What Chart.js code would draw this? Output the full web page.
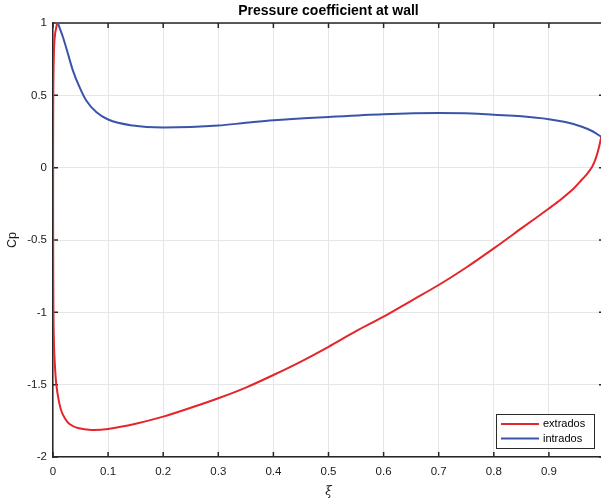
<!DOCTYPE html>
<html>

<head>
    <title>Pressure coefficient at wall</title>
    <script src="https://cdn.jsdelivr.net/npm/chart.js@4.4.0/dist/chart.umd.min.js"></script>

    <style type="text/css">
        html,
        body {
            margin: 0;
            padding: 0;
            overflow: hidden;
            background-color: #ffffff;
        }

        /* the right edge of the axes box sits just past the visible window */
        #plotFrame {
            width: 601px;
            height: 500px;
            overflow: hidden;
        }

        canvas {
            display: block;
        }
    </style>
</head>

<body>
    <div id="plotFrame">
        <canvas id="chartCp" width="607" height="500"></canvas>
    </div>

    <script>
        // extrados: from the stagnation point round the leading edge, then back to the trailing edge
        const xiExtrados = [0.0075, 0.004, 0.0022, 0.0012, 0.0006, 0.0003, 0.0002, 0.0003, 0.0008, 0.002,
            0.004, 0.006, 0.010, 0.015, 0.022, 0.030, 0.045, 0.070, 0.100, 0.150,
            0.200, 0.250, 0.300, 0.350, 0.400, 0.450, 0.500, 0.550, 0.600, 0.650,
            0.700, 0.750, 0.800, 0.850, 0.900, 0.920, 0.945, 0.960, 0.969, 0.979,
            0.986, 0.991, 0.995];
        const cpExtrados = [1.0, 0.93, 0.85, 0.72, 0.55, 0.3, 0.0, -0.5, -1.0, -1.25,
            -1.4, -1.5, -1.6, -1.68, -1.735, -1.772, -1.8, -1.813, -1.806, -1.77,
            -1.721, -1.66, -1.594, -1.52, -1.433, -1.34, -1.238, -1.13, -1.03, -0.92,
            -0.811, -0.69, -0.558, -0.42, -0.282, -0.225, -0.144, -0.082, -0.045, 0.01,
            0.075, 0.143, 0.213];

        // intrados: from the stagnation point to the trailing edge
        const xiIntrados = [0.0088, 0.018, 0.027, 0.036, 0.048, 0.060, 0.0785, 0.100, 0.145, 0.200,
            0.250, 0.300, 0.350, 0.400, 0.500, 0.600, 0.700, 0.760, 0.800, 0.850,
            0.900, 0.930, 0.960, 0.980, 0.995];
        const cpIntrados = [1.0, 0.903, 0.789, 0.673, 0.558, 0.466, 0.385, 0.333, 0.291, 0.278,
            0.281, 0.291, 0.31, 0.328, 0.351, 0.37, 0.378, 0.375, 0.366, 0.355,
            0.335, 0.315, 0.283, 0.25, 0.213];

        const xTicks = [0, 0.1, 0.2, 0.3, 0.4, 0.5, 0.6, 0.7, 0.8, 0.9, 1];
        const xTickLabels = ['0', '0.1', '0.2', '0.3', '0.4', '0.5', '0.6', '0.7', '0.8', '0.9', '1'];
        const yTicks = [-2, -1.5, -1, -0.5, 0, 0.5, 1];
        const yTickLabels = ['-2', '-1.5', '-1', '-0.5', '0', '0.5', '1'];

        const seriesNames = ['extrados', 'intrados'];
        const seriesColors = ['#e3262b', '#3b54ab'];

        const axisColor = '#262626';
        const gridColor = '#e6e6e6';
        const fontFamily = '"Liberation Sans", Arial, sans-serif';
        const tickLen = 5;

        function toPoints(xs, ys) {
            return xs.map((x, i) => ({ x: x, y: ys[i] }));
        }

        // box round the axes, inward ticks, title and legend
        const framePlugin = {
            id: 'frame',
            beforeDatasetsDraw(chart) {
                const ctx = chart.ctx;
                const a = chart.chartArea;
                const sx = chart.scales.x;
                const sy = chart.scales.y;

                ctx.save();
                ctx.strokeStyle = axisColor;
                ctx.lineWidth = 1.5;
                ctx.beginPath();
                ctx.moveTo(a.left, a.top);
                ctx.lineTo(a.right, a.top);
                ctx.lineTo(a.right, a.bottom);
                for (const v of xTicks) {
                    let px = sx.getPixelForValue(v);
                    ctx.moveTo(px, a.bottom);
                    ctx.lineTo(px, a.bottom - tickLen);
                    ctx.moveTo(px, a.top);
                    ctx.lineTo(px, a.top + tickLen);
                }
                for (const v of yTicks) {
                    let py = sy.getPixelForValue(v);
                    ctx.moveTo(a.left, py);
                    ctx.lineTo(a.left + tickLen, py);
                    ctx.moveTo(a.right, py);
                    ctx.lineTo(a.right - tickLen, py);
                }
                ctx.stroke();
                ctx.restore();
            },
            afterDraw(chart) {
                const ctx = chart.ctx;
                const a = chart.chartArea;

                ctx.save();
                ctx.fillStyle = '#000000';
                ctx.font = 'bold 14px ' + fontFamily;
                ctx.textAlign = 'center';
                ctx.textBaseline = 'middle';
                ctx.fillText('Pressure coefficient at wall', (a.left + a.right) / 2, 11);

                // legend, bottom right inside the axes
                const boxW = 98;
                const boxH = 34;
                const boxX = a.right - 10 - boxW;
                const boxY = a.bottom - 9 - boxH;
                ctx.fillStyle = '#ffffff';
                ctx.fillRect(boxX, boxY, boxW, boxH);
                ctx.strokeStyle = '#2b2b2b';
                ctx.lineWidth = 1;
                ctx.strokeRect(boxX + 0.5, boxY + 0.5, boxW, boxH);

                ctx.font = '11px ' + fontFamily;
                ctx.textAlign = 'left';
                for (let i = 0; i < seriesNames.length; i++) {
                    let rowY = boxY + 10 + i * 14.5;
                    ctx.strokeStyle = seriesColors[i];
                    ctx.lineWidth = 2;
                    ctx.beginPath();
                    ctx.moveTo(boxX + 5, rowY);
                    ctx.lineTo(boxX + 43, rowY);
                    ctx.stroke();
                    ctx.fillStyle = '#000000';
                    ctx.fillText(seriesNames[i], boxX + 47, rowY);
                }
                ctx.restore();
            }
        };

        window.onload = function() {
            let ctx = document.getElementById('chartCp').getContext('2d');

            new Chart(ctx, {
                type: 'scatter',
                data: {
                    datasets: [{
                        label: seriesNames[0],
                        data: toPoints(xiExtrados, cpExtrados),
                        borderColor: seriesColors[0],
                        backgroundColor: seriesColors[0],
                    }, {
                        label: seriesNames[1],
                        data: toPoints(xiIntrados, cpIntrados),
                        borderColor: seriesColors[1],
                        backgroundColor: seriesColors[1],
                        cubicInterpolationMode: 'monotone'
                    }]
                },
                options: {
                    responsive: false,
                    animation: false,
                    devicePixelRatio: 1,
                    layout: {
                        padding: { top: 23, right: 3, bottom: 0, left: 0 }
                    },
                    elements: {
                        point: { radius: 0, hoverRadius: 0 },
                        line: { borderWidth: 2, tension: 0.3, fill: false }
                    },
                    datasets: {
                        scatter: { showLine: true }
                    },
                    plugins: {
                        legend: { display: false },
                        title: { display: false },
                        tooltip: { enabled: false }
                    },
                    scales: {
                        x: {
                            type: 'linear',
                            min: 0,
                            max: 1,
                            afterFit: function(scale) {
                                scale.height = 43;
                                scale.paddingLeft = 0;
                                scale.paddingRight = 0;
                            },
                            afterBuildTicks: function(scale) {
                                scale.ticks = xTicks.map(v => ({ value: v }));
                            },
                            grid: { color: gridColor, lineWidth: 1, drawTicks: false },
                            border: { color: axisColor, width: 1.5 },
                            ticks: {
                                color: '#1a1a1a',
                                padding: 8,
                                maxRotation: 0,
                                autoSkip: false,
                                font: { family: fontFamily, size: 11.5 },
                                callback: (value, index) => xTickLabels[index]
                            },
                            title: {
                                display: true,
                                text: 'ξ',
                                color: '#1a1a1a',
                                padding: { top: 0, bottom: 1 },
                                font: { family: '"DejaVu Serif", serif', size: 12, style: 'italic' }
                            }
                        },
                        y: {
                            type: 'linear',
                            min: -2,
                            max: 1,
                            afterFit: function(scale) {
                                scale.width = 53;
                                scale.paddingTop = 0;
                                scale.paddingBottom = 0;
                            },
                            afterBuildTicks: function(scale) {
                                scale.ticks = yTicks.map(v => ({ value: v }));
                            },
                            grid: { color: gridColor, lineWidth: 1, drawTicks: false },
                            border: { color: axisColor, width: 1.5 },
                            ticks: {
                                color: '#1a1a1a',
                                padding: 6,
                                autoSkip: false,
                                font: { family: fontFamily, size: 11.5 },
                                callback: (value, index) => yTickLabels[index]
                            },
                            title: {
                                display: true,
                                text: 'Cp',
                                color: '#1a1a1a',
                                padding: { top: 5, bottom: 0 },
                                font: { family: fontFamily, size: 12.5 }
                            }
                        }
                    }
                },
                plugins: [framePlugin]
            });
        }
    </script>
</body>

</html>
